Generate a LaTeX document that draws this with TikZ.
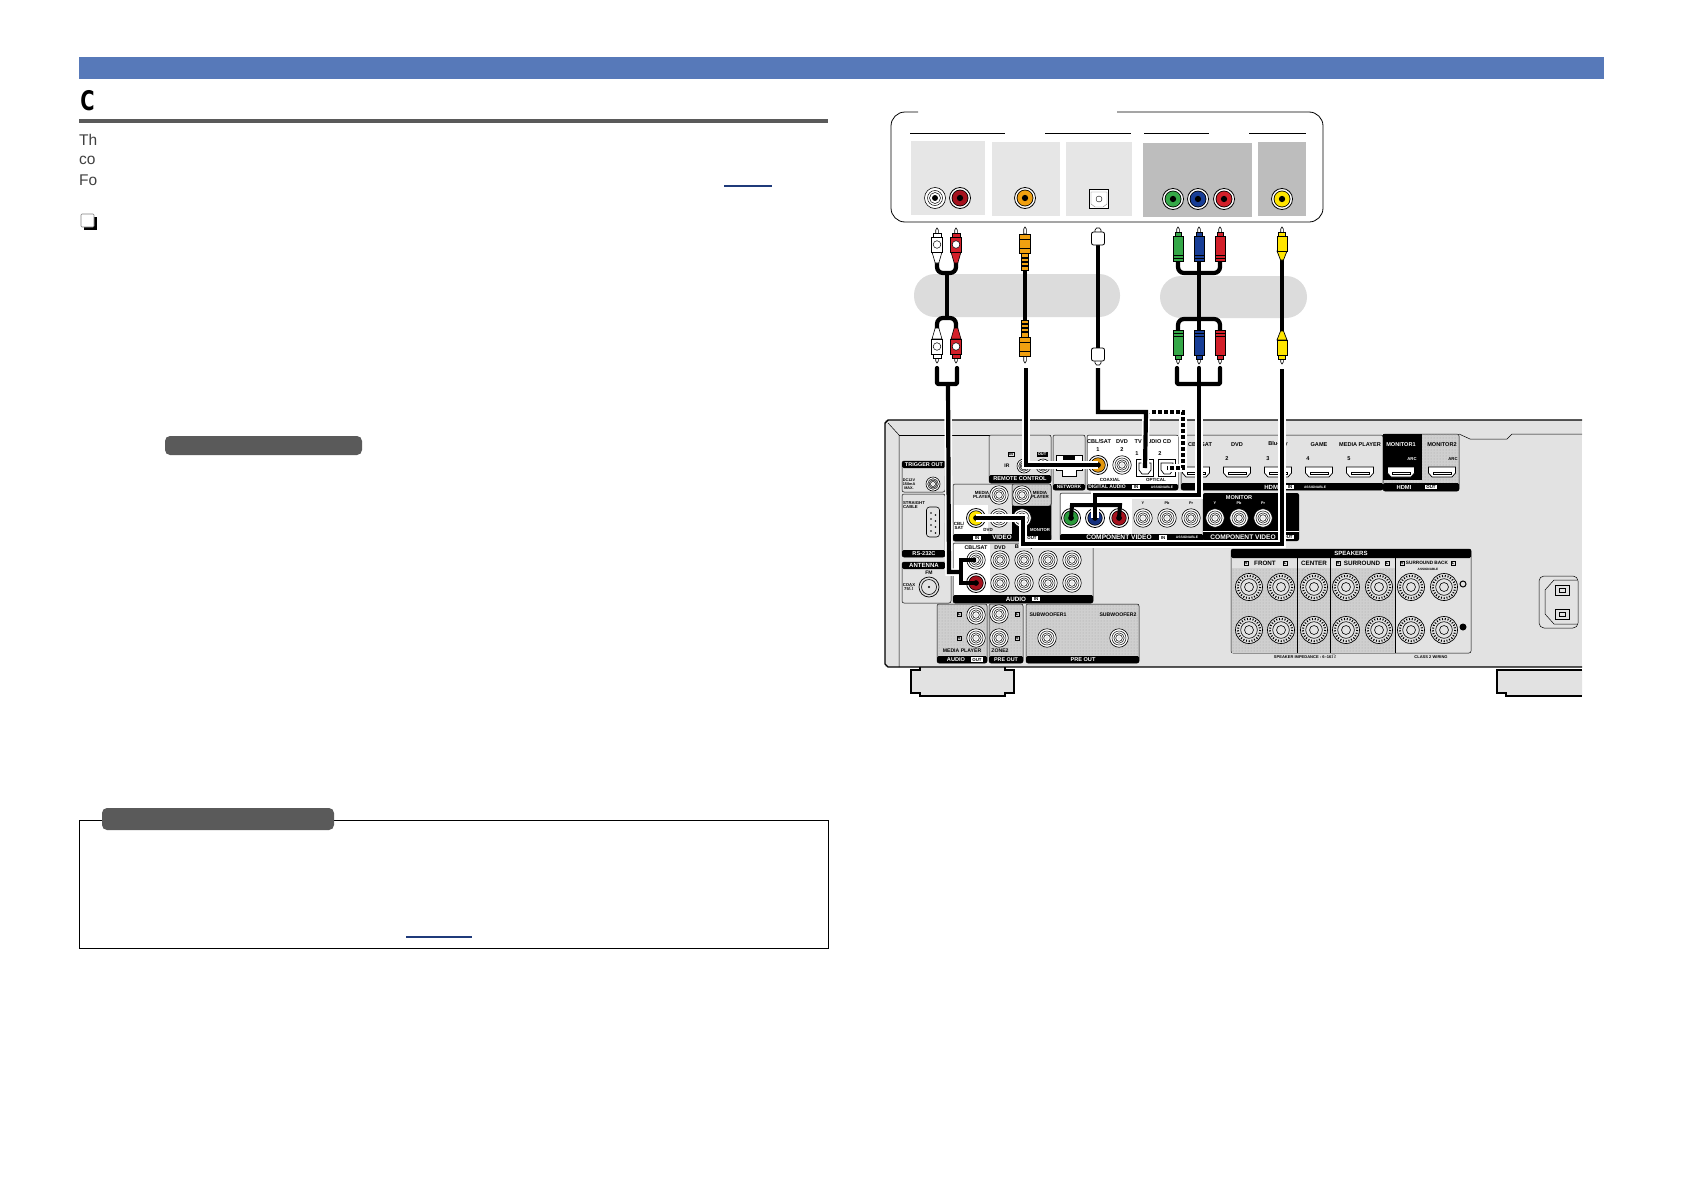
\documentclass[tikz,border=0pt]{standalone}
\usepackage{fontspec}
\setmainfont{Liberation Sans}
\newfontfamily\headfont{DejaVu Sans}
\usetikzlibrary{patterns}
\definecolor{barblue}{HTML}{5779B9}
\definecolor{pillgray}{HTML}{5A5A5A}
\definecolor{recgray}{HTML}{E2E2E2}
\definecolor{dotgray}{HTML}{CFCFCF}
\definecolor{palegray}{HTML}{E6E6E6}
\definecolor{darkpanel}{HTML}{BDBDBD}
\definecolor{bandgray}{HTML}{DCDCDC}
\definecolor{plugwhite}{HTML}{FFFFFF}
\definecolor{plugred}{HTML}{D3202A}
\definecolor{deepred}{HTML}{A5121E}
\definecolor{pluggreen}{HTML}{35A848}
\definecolor{deepgreen}{HTML}{2B9A3C}
\definecolor{plugblue}{HTML}{183E96}
\definecolor{deepblue}{HTML}{14307E}
\definecolor{plugorange}{HTML}{F0A010}
\definecolor{deeporange}{HTML}{E2960C}
\definecolor{plugyellow}{HTML}{FFE500}
\definecolor{linkblue}{HTML}{1F3A7A}
\newcommand{\lblfont}[1]{\pgfmathsetmacro\lblsize{#1*1.12}\fontsize{\lblsize}{\lblsize}\selectfont\bfseries}
\tikzset{
  pics/dotplug/.style={code={
    \draw[line width=.6, fill=white] (-1.3,7) -- (-1.3,2) -- (0,0) -- (1.3,2) -- (1.3,7) -- cycle;
    \draw[line width=.6, fill=#1] (-5,24) -- (5,24) -- (1.8,35) -- (-1.8,35) -- cycle;
    \draw[line width=.8, fill=#1] (-4,5) rectangle (4,9);
    \draw[line width=.8, fill=#1] (-5.5,9) rectangle (5.5,24);
    \fill[white] (0,16.5) circle (3.8);
    \draw[line width=.5] (0,16.5) circle (3.8);
  }},
  pics/colplug/.style={code={
    \draw[line width=.6, fill=white] (-1.3,7) -- (-1.3,2) -- (0,0) -- (1.3,2) -- (1.3,7) -- cycle;
    \draw[line width=.8, fill=#1] (-3,5) rectangle (3,9);
    \draw[line width=.8, fill=#1] (-5,9) rectangle (5,34);
    \draw[line width=.7] (-5,28) -- (5,28) (-5,31) -- (5,31);
  }},
  pics/taperplug/.style={code={
    \draw[line width=.6, fill=white] (-1.3,7) -- (-1.3,2) -- (0,0) -- (1.3,2) -- (1.3,7) -- cycle;
    \draw[line width=.7, fill=#1] (-5,24) -- (5,24) -- (1.5,33) -- (-1.5,33) -- cycle;
    \draw[line width=.8, fill=#1] (-3.5,5) rectangle (3.5,9);
    \draw[line width=.8, fill=#1] (-5,9) rectangle (5,24);
  }},
  pics/longplug/.style={code={
    \draw[line width=.6, fill=white] (-1.3,7) -- (-1.3,2) -- (0,0) -- (1.3,2) -- (1.3,7) -- cycle;
    \draw[line width=.8, fill=#1] (-5.5,7) rectangle (5.5,26);
    \draw[line width=1] (-5.5,12) -- (5.5,12) (-5.5,21) -- (5.5,21);
    \draw[line width=.8, fill=#1] (-3.5,26) rectangle (3.5,43);
    \draw[line width=1.2] (-3.5,31) -- (3.5,31) (-3.5,35) -- (3.5,35) (-3.5,39) -- (3.5,39);
  }},
  pics/fibreplug/.style={code={
    \draw[line width=.6, fill=white] (-3,6) -- (-3,2) -- (-1.5,0) -- (1.5,0) -- (3,2) -- (3,6) -- cycle;
    \draw[line width=.8, fill=white, rounded corners=2] (-6.5,4) rectangle (6.5,17);
  }},
  pics/hdmiport/.style={code={
    \draw[line width=.7, fill=white] (-13.5,-5) -- (13.5,-5) -- (13.5,1) -- (10,5) -- (-10,5) -- (-13.5,1) -- cycle;
    \draw[line width=.5, fill=#1] (-9,0) -- (9,0) -- (9,2) -- (-9,2) -- cycle;
  }}
}
\begin{document}
\begin{tikzpicture}
  [x=1pt, y=-1pt,
   lbl/.style={font=\lblfont{#1}, inner sep=0, align=center},
   lbl/.default=5,
   wlbl/.style={lbl=#1, text=white},
   wlbl/.default=5.9,
   outbox/.style={font=\fontsize{4.4}{5}\selectfont\bfseries, fill=white, text=black, inner xsep=1.6, inner ysep=.6},
   tagbox/.style={font=\fontsize{4}{4}\selectfont\bfseries, draw=black, line width=.4, inner sep=.7},
   panel/.style={draw=black, line width=.5, fill=recgray, rounded corners=2},
   dotpanel/.style={panel, fill=dotgray, postaction={pattern=dots, pattern color=gray!70}},
   strip/.style={fill=black, rounded corners=1.5},
   tonejack/.style 2 args={circle, draw=black, fill=white, minimum size=#1, inner sep=0, line width=.8,
     path picture={\fill[black] (path picture bounding box.center) circle ({#1*.4});
                   \fill[#2] (path picture bounding box.center) circle ({#1*.36});
                   \fill[black] (path picture bounding box.center) circle ({#1*.15});}},
   whitejack/.style={circle, draw=black, fill=white, minimum size=21, inner sep=0, line width=.6,
     path picture={\draw[line width=.5] (path picture bounding box.center) circle (7.5) (path picture bounding box.center) circle (5.5);
                   \fill[black] (path picture bounding box.center) circle (3);}},
   ringjack/.style={circle, draw=black, fill=white, minimum size=#1, inner sep=0, line width=.6,
     path picture={\draw[line width=.5] (path picture bounding box.center) circle ({#1*.38}) (path picture bounding box.center) circle ({#1*.28}) (path picture bounding box.center) circle ({#1*.18});
                   \fill[recgray] (path picture bounding box.center) circle ({#1*.1});}},
   ringjack/.default=18.5,
   bindpost/.style={circle, draw=black, fill=recgray, minimum size=27, inner sep=0, line width=.7,
     path picture={\draw[line width=2, dash pattern=on 1 off 1.8] (path picture bounding box.center) circle (11.2);
                   \draw[line width=.6] (path picture bounding box.center) circle (8.3) (path picture bounding box.center) circle (4.5);}},
   optbox/.style={rectangle, draw=black, fill=white, minimum size=17, inner sep=0, line width=.9,
     path picture={\draw[line width=.7] ([shift={(-6,-5)}]path picture bounding box.center) -- ([shift={(6,-5)}]path picture bounding box.center) -- ([shift={(6,2)}]path picture bounding box.center) -- ([shift={(3,6)}]path picture bounding box.center) -- ([shift={(-3,6)}]path picture bounding box.center) -- ([shift={(-6,2)}]path picture bounding box.center) -- cycle;}},
   wire/.style={line width=4.2, black, line join=miter, preaction={draw, white, line width=7.5}},
   cord/.style={line width=4.2, black, rounded corners=6},
   stub/.style={line width=4.2, black, line cap=round, line join=round, rounded corners=1},
   dashwire/.style={line width=4.4, black, dash pattern=on 4 off 2, preaction={draw, white, solid, line width=7.5}},
   link/.style={linkblue, line width=1.1}]
  \useasboundingbox (0,0) rectangle (1684,1191);
  \fill[white] (0,0) rectangle (1684,1191);

  \fill[barblue] (79,57) rectangle (1604,79);
  \node[font=\headfont\fontsize{27}{27}\selectfont\bfseries, inner sep=0, xscale=.72] (headC) at (87.5,101) {C};
  \fill[pillgray] (79,119) rectangle (828,123);
  \foreach \y/\t [count=\i] in {140/Th,160/co,180/Fo}
    \node[font=\fontsize{15.5}{16}\selectfont, text=black!75, inner sep=0, anchor=west] (intro\i) at (79,\y) {\t};
  \draw[link] (724,186) -- (772,186);
  \fill[black] (84,217) rectangle (97,230);
  \draw[gray, fill=white, line width=.7, rounded corners=1] (81,214) rectangle (94,227);
  \fill[pillgray, rounded corners=5] (165,436) rectangle (362,455);
  \draw[black, line width=1] (79,820) rectangle (828,948);
  \fill[pillgray, rounded corners=5] (102,808) rectangle (334,830);
  \draw[link] (406,937) -- (472,937);

  \fill[bandgray, rounded corners=21] (914,274) rectangle (1120,317);
  \fill[bandgray, rounded corners=21] (1160,276) rectangle (1307,318);
  \draw[line width=.8, rounded corners=14] (918,112) -- (891,112) -- (891,222) -- (1323,222) -- (1323,112) -- (1117,112);
  \foreach \a/\b in {910/1005,1045/1131,1144/1209,1249/1306}
    \draw[line width=.8] (\a,133) -- (\b,133);
  \foreach \a/\b/\c/\d in {911/141/985/215,992/142/1060/216,1066/142/1132/216}
    \fill[palegray] (\a,\b) rectangle (\c,\d);
  \foreach \a/\b/\c/\d in {1143/143/1252/217,1258/142/1306/216}
    \fill[darkpanel] (\a,\b) rectangle (\c,\d);
  \node[whitejack] (srcL) at (935,198) {};
  \node[tonejack={21}{deepred}] (srcR) at (960,198) {};
  \node[tonejack={21}{plugorange}] (srcCoax) at (1025,198) {};
  \node[rectangle, draw=black, fill=white, minimum size=19, inner sep=0, line width=.8] (srcOpt) at (1099,199) {};
  \draw[line width=.4, gray] (1091,192) -- (1107,192) -- (1107,204) -- (1103,207) -- (1095,207) -- (1091,204) -- cycle;
  \draw[line width=.4] (srcOpt) circle (3);
  \node[tonejack={21}{pluggreen}] (srcY) at (1173,199) {};
  \node[tonejack={21}{plugblue}] (srcPb) at (1198,199) {};
  \node[tonejack={21}{plugred}] (srcPr) at (1224,199) {};
  \node[tonejack={21}{plugyellow}] (srcV) at (1282,199) {};

  \coordinate (capL) at (937,262);
  \coordinate (capR) at (956,262);
  \coordinate (capLb) at (937,330);
  \coordinate (capRb) at (956,330);
  \draw[cord] (capL) -- (937,273) -- (956,273) -- (capR);
  \draw[cord] (capLb) -- (937,318) -- (956,318) -- (capRb);
  \draw[cord] (947,273) -- (947,318);
  \coordinate (capCoax) at (1025,265);
  \coordinate (capCoaxb) at (1025,325);
  \draw[cord] (capCoax) -- (capCoaxb);
  \coordinate (capOpt) at (1098,240);
  \coordinate (capOptb) at (1098,352);
  \draw[cord] (capOpt) -- (capOptb);
  \coordinate (capY) at (1178,262);
  \coordinate (capPb) at (1199,262);
  \coordinate (capPr) at (1220,262);
  \coordinate (capYb) at (1178,331);
  \coordinate (capPbb) at (1199,331);
  \coordinate (capPrb) at (1220,331);
  \draw[cord] (capY) -- (1178,273) -- (1220,273) -- (capPr);
  \draw[cord] (capYb) -- (1178,319) -- (1220,319) -- (capPrb);
  \draw[cord] (capPb) -- (capPbb);
  \coordinate (capV) at (1282,255);
  \coordinate (capVb) at (1282,337);
  \draw[cord] (capV) -- (capVb);

  \pic at (937,228) {dotplug=plugwhite};
  \pic at (956,228) {dotplug=plugred};
  \pic[yscale=-1] at (937,363) {dotplug=plugwhite};
  \pic[yscale=-1] at (956,363) {dotplug=plugred};
  \pic at (1025,227) {longplug=plugorange};
  \pic[yscale=-1] at (1025,363) {longplug=plugorange};
  \pic at (1098,228) {fibreplug};
  \pic[yscale=-1] at (1098,365) {fibreplug};
  \pic at (1178,227) {colplug=pluggreen};
  \pic at (1199,227) {colplug=plugblue};
  \pic at (1220,227) {colplug=plugred};
  \pic[yscale=-1] at (1178,364) {colplug=pluggreen};
  \pic[yscale=-1] at (1199,364) {colplug=plugblue};
  \pic[yscale=-1] at (1220,364) {colplug=plugred};
  \pic at (1282,227) {taperplug=plugyellow};
  \pic[yscale=-1] at (1282,364) {taperplug=plugyellow};

  \fill[recgray] (885,420) rectangle (1582,667);
  \fill[recgray, draw=black, line width=1.2] (920,667) -- (920,670) -- (911,670) -- (911,693) -- (920,693) -- (920,696) -- (1005,696) -- (1005,693) -- (1014,693) -- (1014,670) -- (1005,670) -- (1005,667);
  \fill[recgray, draw=black, line width=1.2] (1582,670) -- (1497,670) -- (1497,693) -- (1506,693) -- (1506,696) -- (1582,696);
  \draw[line width=1.4, line join=round] (1582,420) -- (888,420) -- (885,423) -- (885,664) -- (888,667) -- (1582,667);
  \draw[line width=.5] (888,423) -- (899,435) -- (899,667);
  \draw[line width=.5] (899,435) -- (990,435);
  \draw[line width=.5] (1459,434) -- (1470,439) -- (1507,439) -- (1512,434) -- (1582,434);

  \draw[panel] (902,461) rectangle (945,492);
  \draw[panel] (902,494) rectangle (945,557);
  \draw[panel] (902,562) rectangle (951,603);
  \fill[strip] (902,461) rectangle (945,468);
  \fill[strip] (902,550) rectangle (945,557);
  \fill[strip] (902,562) rectangle (945,569);
  \node[wlbl=4.9] (labTrig) at (924,464.7) {TRIGGER OUT};
  \node[wlbl=5] (labRs) at (924,553.6) {RS-232C};
  \node[wlbl=5.4] (labAnt) at (924,565.6) {ANTENNA};
  \node[lbl=3.4] (labDc) at (909,484) {DC12V\\150mA\\MAX.};
  \node[ringjack=14] (jTrig) at (933,484) {};
  \node[lbl=3.8, align=left] (labCable) at (914,505) {STRAIGHT\\CABLE};
  \node[draw=black, fill=recgray, rounded corners=3, minimum width=13, minimum height=30, inner sep=0, line width=.6] (jRs) at (933,522) {};
  \foreach \y in {513,519,525,531} \fill[black] (931,\y) circle (.8) (935.5,\y+2) circle (.8);
  \node[lbl=4.5] (labFm) at (929,573) {FM};
  \node[lbl=3.8] (labCoax) at (909,587) {COAX\\75$\Omega$};
  \node[circle, draw=black, fill=recgray, minimum size=20, inner sep=0, line width=.7,
        path picture={\draw[line width=.6] (path picture bounding box.center) circle (7.5);
                      \fill[black] (path picture bounding box.center) circle (1.2);}] (jFm) at (929,587) {};

  \draw[panel] (989,435) rectangle (1051,483);
  \fill[strip] (989,475) rectangle (1051,483);
  \node[wlbl=5] (labRemote) at (1020,479) {REMOTE CONTROL};
  \node[tagbox] (labIrIn) at (1011,454) {IN};
  \node[tagbox, fill=black, text=white] (labIrOut) at (1042,454) {OUT};
  \node[lbl=4.5] (labIr) at (1007,466) {IR};
  \node[ringjack=14] (jIrIn) at (1024,466) {};
  \node[ringjack=14] (jIrOut) at (1043,466) {};

  \draw[panel] (1053,435) rectangle (1085,490);
  \fill[strip] (1053,484) rectangle (1085,490);
  \node[wlbl=4.2] (labNet) at (1069,487) {NETWORK};
  \draw[line width=.7, fill=white] (1056,455) -- (1082,455) -- (1082,470) -- (1076,470) -- (1076,476) -- (1062,476) -- (1062,470) -- (1056,470) -- cycle;
  \fill[black] (1063,456) rectangle (1075,460);

  \draw[panel] (1087,435) rectangle (1178,490);
  \fill[white] (1087.5,435.5) rectangle (1177.5,484);
  \fill[strip] (1087,484) rectangle (1178,490);
  \node[wlbl=4.5] (labDig) at (1107,487) {DIGITAL AUDIO};
  \node[outbox] (labDigIn) at (1136,487) {IN};
  \node[wlbl=3] (labDigAs) at (1162,487) {ASSIGNABLE};
  \foreach \x/\y/\t [count=\i] in {1099/442/{CBL/SAT},1122/442/DVD,1148/442/{TV AUDIO},1167/442/CD,1098/449.5/1,1122/449.5/2,1137/454/1,1160/454/2}
    \node[lbl=5] (labDigT\i) at (\x,\y) {\t};
  \node[lbl=4] (labCoaxial) at (1110,480) {COAXIAL};
  \node[lbl=4] (labOptical) at (1156,480) {OPTICAL};
  \node[tonejack={19}{deeporange}] (jCoax1) at (1098,465) {};
  \node[ringjack] (jCoax2) at (1122,465) {};
  \node[optbox] (jOpt1) at (1145,468) {};
  \node[optbox] (jOpt2) at (1167,468) {};

  \draw[panel] (1181,435) rectangle (1383,490);
  \fill[strip] (1181,483) rectangle (1383,490);
  \node[wlbl=5.4] (labHdmi) at (1272,487) {HDMI};
  \node[outbox] (labHdmiIn) at (1290,487) {IN};
  \node[wlbl=3] (labHdmiAs) at (1315,487) {ASSIGNABLE};
  \foreach \x/\t [count=\i] in {1200/{CBL/SAT},1237/DVD,1278/Blu-ray,1319/GAME,1360/MEDIA PLAYER}
    \node[lbl=5] (labIn\i) at (\x,444.5) {\t};
  \foreach \x/\t [count=\i] in {1227/2,1268/3,1308/4,1349/5}
    \node[lbl=5] (labNum\i) at (\x,459) {\t};
  \foreach \x in {1196,1237,1278,1319,1360}
    \pic at (\x,472) {hdmiport=white};
  \draw[dotpanel] (1383,434) rectangle (1459,491);
  \fill[black] (1383,434) rectangle (1422,480);
  \fill[strip] (1383,483) rectangle (1459,491);
  \node[wlbl=5] (labMon1) at (1401,444.5) {MONITOR1};
  \node[lbl=5] (labMon2) at (1442,444.5) {MONITOR2};
  \node[wlbl=3.8] (labArc1) at (1412,459) {ARC};
  \node[lbl=3.8] (labArc2) at (1453,459) {ARC};
  \pic at (1401,472) {hdmiport=white};
  \pic at (1442,472) {hdmiport=white};
  \node[wlbl=5.2] (labHdmiO) at (1404,487) {HDMI};
  \node[outbox] (labHdmiOut) at (1431,487) {OUT};

  \draw[panel] (953,484) rectangle (1051,541);
  \fill[white] (953.5,505) rectangle (988,534);
  \fill[strip] (953,534) rectangle (1051,541);
  \draw[dotpanel] (1012,484) rectangle (1051,506);
  \fill[black] (1012,506) rectangle (1051,536);
  \node[lbl=4] (labVidA) at (982,495) {MEDIA\\PLAYER};
  \node[lbl=4] (labVidB) at (1040,495) {MEDIA\\PLAYER};
  \node[lbl=4] (labVidC) at (959,526) {CBL/\\SAT};
  \node[lbl=4] (labVidD) at (988,530) {DVD};
  \node[wlbl=3.8] (labVidE) at (1040,530) {MONITOR};
  \node[outbox] (labVidIn) at (977,538) {IN};
  \node[wlbl=5.6] (labVid) at (1002,537.6) {VIDEO};
  \node[outbox] (labVidOut) at (1032,538) {OUT};
  \node[ringjack] (jVidA) at (999,495) {};
  \node[ringjack] (jVidB) at (1022,495) {};
  \node[tonejack={19}{plugyellow}] (jVidC) at (976,518) {};
  \node[ringjack] (jVidD) at (999,518) {};
  \node[ringjack] (jVidE) at (1022,518) {};

  \draw[panel] (1060,493) rectangle (1203,541);
  \fill[white] (1060.5,493.5) rectangle (1132,534);
  \fill[strip] (1060,534) rectangle (1203,541);
  \node[wlbl] (labComp) at (1119,537.5) {COMPONENT VIDEO};
  \node[outbox] (labCompIn) at (1163,537.5) {IN};
  \node[wlbl=3] (labCompAs) at (1187,537.5) {ASSIGNABLE};
  \node[lbl=4] (labCompT) at (1167,498) {2 DVD};
  \foreach \x/\t [count=\i] in {1143/Y,1167/Pb/Cb,1191/Pr/Cr}
    \node[lbl=3.4] (labCompS\i) at (\x,503) {\t};
  \node[tonejack={19}{deepgreen}] (jY) at (1071,518) {};
  \node[tonejack={19}{deepblue}] (jPb) at (1095,518) {};
  \node[tonejack={19}{deepred}] (jPr) at (1119,518) {};
  \foreach \x [count=\i] in {1143,1167,1191}
    \node[ringjack] (jCompG\i) at (\x,518) {};

  \fill[black, rounded corners=2] (1203,493) rectangle (1299,541);
  \draw[white, line width=.6] (1203,531) -- (1299,531);
  \node[wlbl=5] (labMonC) at (1239,497.5) {MONITOR};
  \foreach \x/\t [count=\i] in {1215/Y,1239/Pb/Cb,1263/Pr/Cr}
    \node[wlbl=3.4] (labMonS\i) at (\x,503) {\t};
  \foreach \x [count=\i] in {1215,1239,1263}
    \node[ringjack] (jMon\i) at (\x,518) {};
  \node[wlbl] (labMonV) at (1243,537) {COMPONENT VIDEO};
  \node[outbox] (labMonOut) at (1288,537) {OUT};

  \draw[panel] (953,543) rectangle (1093,603);
  \fill[white] (953.5,543.5) rectangle (990,595);
  \fill[strip] (953,595) rectangle (1093,603);
  \node[wlbl=5.6] (labAud) at (1016,599) {AUDIO};
  \node[outbox] (labAudIn) at (1036,599) {IN};
  \foreach \x/\t [count=\i] in {976/{CBL/SAT},1000/DVD,1024/Blu-ray}
    \node[lbl=4.8] (labAudT\i) at (\x,547.5) {\t};
  \node[ringjack] (jAudL) at (976,560) {};
  \node[tonejack={19}{deepred}] (jAudR) at (976,583) {};
  \foreach \x [count=\i] in {1000,1024,1048,1072} {
    \node[ringjack] (jAudA\i) at (\x,560) {};
    \node[ringjack] (jAudB\i) at (\x,583) {};
  }

  \draw[dotpanel] (937,604) rectangle (987,663);
  \draw[dotpanel] (989,604) rectangle (1023,663);
  \draw[dotpanel] (1026,604) rectangle (1139,663);
  \foreach \a/\b in {937/987,989/1023,1026/1139}
    \fill[strip] (\a,656) rectangle (\b,663);
  \node[ringjack] (jOutL) at (976,615) {};
  \node[ringjack] (jOutR) at (976,638) {};
  \node[ringjack] (jZoneL) at (999,614) {};
  \node[ringjack] (jZoneR) at (999,638) {};
  \node[tagbox] (tagA) at (959,614) {L};
  \node[tagbox] (tagB) at (959,638) {R};
  \node[tagbox] (tagC) at (1017,614) {L};
  \node[tagbox] (tagD) at (1017,638) {R};
  \node[lbl=4.6] (labMedia) at (962,651) {MEDIA PLAYER};
  \node[lbl=4.6] (labZone) at (1000,651) {ZONE2};
  \node[wlbl=5] (labAudO) at (956,659.6) {AUDIO};
  \node[outbox] (labAudOut) at (977,659.6) {OUT};
  \node[wlbl=4.8] (labPre) at (1006,659.6) {PRE OUT};
  \node[wlbl=5] (labPreB) at (1083,659.6) {PRE OUT};
  \node[lbl=4.6] (labSub1) at (1048,615) {SUBWOOFER1};
  \node[lbl=4.6] (labSub2) at (1118,615) {SUBWOOFER2};
  \node[ringjack] (jSub1) at (1047,638) {};
  \node[ringjack] (jSub2) at (1119,638) {};

  \draw[panel] (1231,549) rectangle (1471,653);
  \draw[dotpanel, rounded corners=0, draw=none] (1231.5,568) rectangle (1395,652.5);
  \fill[strip] (1231,549) rectangle (1471,558);
  \draw[line width=.6] (1297,558) -- (1297,653) (1330,558) -- (1330,653) (1395,558) -- (1395,653);
  \node[wlbl=5.4] (labSpk) at (1351,553.5) {SPEAKERS};
  \foreach \x/\t/\s [count=\i] in {1265/FRONT/5.6,1314/CENTER/5.6,1362/SURROUND/5.6,1427/SURROUND BACK/4.2}
    \node[lbl=\s] (labSpkT\i) at (\x,563) {\t};
  \foreach \x/\t [count=\i] in {1246/R,1285/L,1338/R,1387/L,1402/R,1453/L}
    \node[tagbox] (tagS\i) at (\x,563) {\t};
  \node[lbl=2.8] (labSpkAs) at (1428,569) {ASSIGNABLE};
  \foreach \x [count=\i] in {1249,1281,1314,1346,1379,1411,1444} {
    \node[bindpost] (spkA\i) at (\x,587) {};
    \node[bindpost] (spkB\i) at (\x,630) {};
  }
  \node[circle, draw=black, line width=1, minimum size=6, inner sep=0] (spkPlus) at (1463,584) {};
  \node[circle, fill=black, minimum size=7, inner sep=0] (spkMinus) at (1463,627) {};
  \node[lbl=3.6] (labImp) at (1305,657) {SPEAKER IMPEDANCE : 6--16$\Omega$};
  \node[lbl=3.6] (labClass) at (1431,657) {CLASS 2 WIRING};

  \draw[line width=.5, fill=recgray, rounded corners=5] (1539,576) rectangle (1578,628);
  \draw[line width=.5, fill=recgray] (1577,580) -- (1554,580) -- (1545,590) -- (1545,614) -- (1554,624) -- (1577,624);
  \draw[line width=.7, fill=recgray] (1555,585) rectangle (1569,595);
  \draw[line width=.7, fill=recgray] (1555,609) rectangle (1569,619);
  \draw[line width=.7] (1559,588) rectangle (1565,592) (1559,612) rectangle (1565,616);

  \coordinate (auL) at (937,368);
  \coordinate (auR) at (957,368);
  \coordinate (auTop) at (948,384);
  \coordinate (auKnee) at (949,572);
  \coordinate (auJoin) at (961,572);
  \coordinate (coaxTop) at (1026,368);
  \coordinate (fibreTop) at (1098,368);
  \coordinate (fibreBend) at (1146,412);
  \coordinate (dashCorner) at (1183,412);
  \coordinate (cvL) at (1177,368);
  \coordinate (cvR) at (1220,368);
  \coordinate (cvTop) at (1199,384);
  \coordinate (cvKnee) at (1095,495);
  \coordinate (cvBusL) at (1072,505);
  \coordinate (cvBusR) at (1120,505);
  \coordinate (vidTop) at (1282,369);
  \coordinate (vidKnee) at (1282,544);
  \coordinate (vidBack) at (1023,544);

  \draw[wire] (auTop) -- (auKnee) -- (auJoin);
  \draw[wire] (coaxTop) |- (jCoax1.center);
  \draw[dashwire] (fibreBend) -- (dashCorner) |- (jOpt2.center);
  \draw[wire] (fibreTop) |- (fibreBend) -- (jOpt1.center);
  \draw[wire] (cvTop) |- (cvKnee) -- (jPb.center);
  \draw[line width=4, black] (jY.center) -- (cvBusL) -- (cvBusR) -- (jPr.center);
  \draw[wire] (vidTop) -- (vidKnee) -- (vidBack) |- (jVidC.center);
  \draw[stub] (auL) |- (auTop) -| (auR);
  \draw[stub] (cvL) |- (cvTop) -| (cvR);
  \draw[stub] (auTop) -- ++(0,4);
  \draw[stub] (cvTop) -- (1199,368);
  \draw[line width=4, black, line join=miter] (jAudL.center) -| (auJoin) |- (jAudR.center);
\end{tikzpicture}
\end{document}
